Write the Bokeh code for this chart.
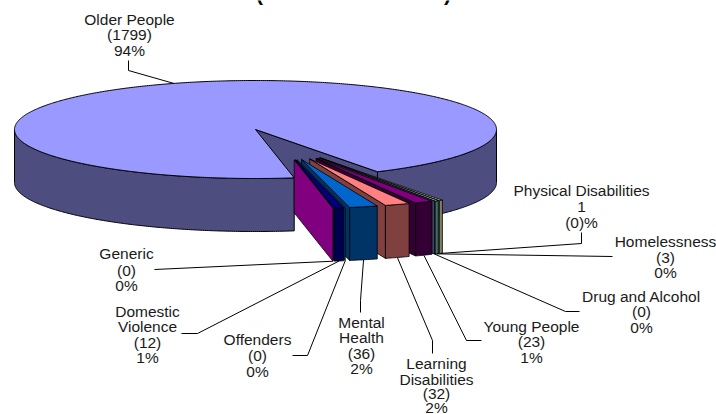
import math
from bokeh.plotting import figure
from bokeh.embed import file_html
from bokeh.resources import INLINE
from bokeh.models import Range1d
from bokeh.core.properties import value

# Referrals by client group, in the order they run round the pie
older = ("Older People", 1799)
groups = ["Physical Disabilities", "Homelessness", "Drug and Alcohol", "Young People",
          "Learning Disabilities", "Mental Health", "Offenders", "Domestic Violence", "Generic"]
counts = [1, 3, 0, 23, 32, 36, 0, 12, 0]
top_colors = ["#E8F0C0", "#CCFFFF", "#CCCCFF", "#800080", "#FF8080", "#0066CC", "#0A4F8F", "#000080", "#800080"]
side_colors = ["#808060", "#406F70", "#404060", "#330033", "#804040", "#003366", "#003F70", "#000050", "#800080"]

# Label block and leader elbow points for each group (pixels)
labels = {
    "Older People": (["Older People", "(1799)", "94%"], 129, [18.5, 34, 50], [(128, 60), (128, 70)]),
    "Physical Disabilities": (["Physical Disabilities", "1", "(0)%"], 581, [190, 206, 222], [(581, 232), (581, 243)]),
    "Homelessness": (["Homelessness", "(3)", "0%"], 665, [241, 257, 272], [(612, 256)]),
    "Drug and Alcohol": (["Drug and Alcohol", "(0)", "0%"], 641, [296, 311, 327], [(579, 311), (565, 311)]),
    "Young People": (["Young People", "(23)", "1%"], 531, [326, 341, 357], [(481, 340), (466, 340)]),
    "Learning Disabilities": (["Learning", "Disabilities", "(32)", "2%"], 436, [363, 379, 393, 406.5], [(432, 353), (432, 340)]),
    "Mental Health": (["Mental", "Health", "(36)", "2%"], 361, [322, 337, 353, 368], [(360, 312), (360, 300)]),
    "Offenders": (["Offenders", "(0)", "0%"], 257, [339, 355, 371], [(292, 355), (307, 355)]),
    "Domestic Violence": (["Domestic", "Violence", "(12)", "1%"], 147, [311, 326, 342, 357], [(181, 333), (197, 333)]),
    "Generic": (["Generic", "(0)", "0%"], 126, [253, 270, 285], [(154, 269)]),
}

# Projection of the tilted pie
CX, CY, RX, RY, DEPTH = 255, 129, 241, 49, 53
START_DEG, EXPLODE = 59.6, 0.64
# The small slices pull out along directions closer together than their own mid-angles
SPREAD = 0.5
# Non-empty slices keep a sliver wide enough to stay visible inside their outlines
MIN_SWEEP = 0.85
total = older[1] + sum(counts)


def rim(t, ox=0.0, oy=0.0, drop=0.0):
    a = math.radians(t)
    return CX + ox + RX * math.cos(a), CY + oy + drop + RY * math.sin(a)


def arc(t0, t1, ox=0.0, oy=0.0, drop=0.0):
    n = max(2, int(abs(t1 - t0) * 2) + 2)
    return [rim(t0 + (t1 - t0) * i / (n - 1), ox, oy, drop) for i in range(n)]


p = figure(width=716, height=414, output_backend="svg", toolbar_location=None,
           x_range=Range1d(0, 716), y_range=Range1d(414, 0), min_border=0)
p.axis.visible = False
p.grid.visible = False
p.outline_line_color = None


def poly(points, fill, line="#000000", width=1.0):
    p.patch([q[0] for q in points], [q[1] for q in points], fill_color=fill,
            line_color=line, line_width=width)


# Spans of each small slice, clockwise from the start angle
spans = []
t = START_DEG
for c in counts:
    sweep = max(360.0 * c / total, MIN_SWEEP) if c else 0.0
    spans.append((t, t + sweep))
    t += sweep
big_start, big_end = t, START_DEG + 360.0
group_mid = (START_DEG + big_start) / 2

BIG_TOP, BIG_SIDE = "#9999FF", "#4D4D80"
apex = (CX, CY)
r0 = rim(big_end)

# Large slice: cut face, outer walls, then the top surface
poly([apex, r0, (r0[0], r0[1] + DEPTH), (CX, CY + DEPTH)], BIG_SIDE)
poly(arc(big_start, 180) + arc(180, big_start, drop=DEPTH), BIG_SIDE)
poly(arc(360, big_end) + arc(big_end, 360, drop=DEPTH), BIG_SIDE)
poly([apex] + arc(big_start, big_end), BIG_TOP)

# Exploded slices, painted from the right-hand edge towards the viewer
anchors = {}
for name, (a, b), top, side in zip(groups, spans, top_colors, side_colors):
    mid_deg = (a + b) / 2
    mid = math.radians(group_mid + SPREAD * (mid_deg - group_mid))
    ox = EXPLODE * RX * math.cos(mid)
    oy = EXPLODE * RY * math.sin(mid)
    tip = (CX + ox, CY + oy)
    e = rim(b, ox, oy)
    poly([tip, e, (e[0], e[1] + DEPTH), (tip[0], tip[1] + DEPTH)], side, width=0.8)
    if b > a:
        poly(arc(a, b, ox, oy) + arc(b, a, ox, oy, drop=DEPTH), side, width=0.8)
        poly([tip] + arc(a, b, ox, oy), top, width=0.8)
    anchors[name] = rim(mid_deg, ox, oy, DEPTH)
anchors[older[0]] = rim((big_start + big_end) / 2)

# Leader lines and label blocks
for name, (lines, tx, ys, elbow) in labels.items():
    pts = elbow + [anchors[name]]
    p.line([q[0] for q in pts], [q[1] for q in pts], line_color="#000000", line_width=1)
    p.text([tx] * len(lines), ys, text=lines, text_align="center", text_baseline="middle",
           text_font=value("Liberation Sans"), text_font_size="15.5px", text_color="#1a1a1a")

# Only the closing edge of the heading's brackets falls inside the frame
p.text([259, 447], [-7, -7], text=["(", ")"], text_align="center", text_baseline="middle",
       text_font=value("Liberation Sans"), text_font_style="bold", text_font_size="21px",
       text_color="#000000")

open("out.html", "w").write(file_html(p, INLINE))
